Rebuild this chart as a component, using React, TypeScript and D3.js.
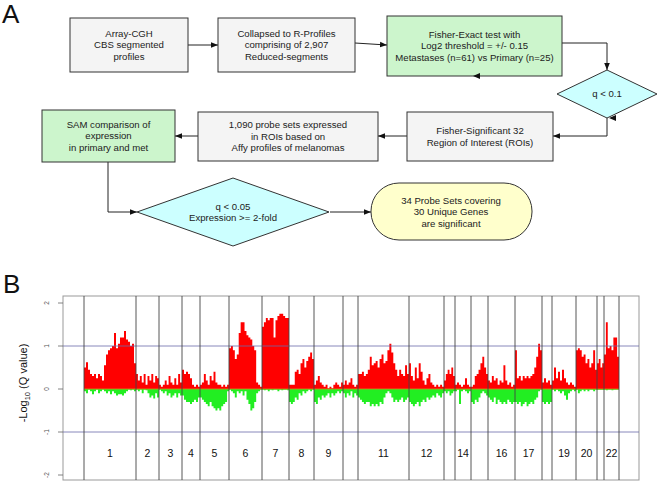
import React from "react";
import * as d3 from "d3";

// ---------- Data ----------
const chromNames = ["1","2","3","4","5","6","7","8","9","10","11","12","13","14","15","16","17","18","19","20","21","22"];
const shownLabels = ["1","2","3","4","5","6","7","8","9","11","12","14","16","17","19","20","22"];
const chromLengths = [52,23,23,18,29,33,27,25,29,15,51,35,11,16,17,27,27,10,24,21,7,15];

const gainValues: number[][] = [
  [0.5,0.62,0.45,0.35,0.3,0.35,0.25,0.35,0.3,0.2,0.55,0.8,0.9,0.95,1.0,1.3,0.95,1.05,1.2,1.2,1.35,1.15,1.1,1.0,1.05,0.6],
  [0.35,0.2,0.3,0.15,0.35,0.1,0.3,0.2,0.35,0.15,0.3,0.25],
  [0.1,0.05,0.1,0.2,0.1,0.3,0.15,0.1,0.25,0.1,0.35,0.15],
  [0.45,0.35,0.4,0.35,0.25,0.1,0.05,0.1,0.05],
  [0.1,0.15,0.35,0.2,0.1,0.3,0.2,0.4,0.15,0.1,0.1,0.05,0.1,0.05,0.1],
  [0.95,1.0,0.9,0.7,0.8,1.3,1.55,1.55,1.35,1.25,1.2,1.15,1.0,0.9,0.15,0.1,0.05],
  [1.45,1.55,1.65,1.6,1.65,1.65,1.2,1.6,1.7,1.75,1.75,1.7,1.65,1.65],
  [0.1,0.1,0.1,0.4,0.45,0.35,0.6,0.7,0.5,0.65,0.75,0.85,0.7],
  [0.1,0.2,0.3,0.15,0.1,0.05,0.1,0.02,0.05,0.02,0.1,0.15,0.1,0.05,0.15],
  [0.1,0.2,0.1,0.15,0.25,0.1,0.05,0.1],
  [0.35,0.35,0.4,0.3,0.35,0.45,0.75,0.55,0.6,0.65,0.5,0.7,0.8,0.6,0.65,0.9,1.05,0.85,0.6,0.45,0.3,0.45,0.35,0.3,0.55,0.35],
  [0.6,0.3,0.2,0.5,0.25,0.6,0.4,0.2,0.1,0.25,0.35,0.15,0.1,0.05,0.1,0.05,0.1,0.05],
  [0.2,0.35,0.45,0.35,0.5,0.3],
  [0.1,0.15,0.1,0.05,0.1,0.25,0.1,0.05],
  [0.05,0.1,0.3,0.35,0.45,0.6,0.75,0.5,0.35],
  [0.2,0.15,0.3,0.2,0.25,0.1,0.2,0.15,0.55,0.2,0.1,0.15,0.05,0.1],
  [0.9,0.25,0.3,0.2,0.3,0.25,0.3,0.25,0.3,0.35,0.5,0.75,1.05,0.9],
  [0.15,0.25,0.15,0.2,0.1],
  [0.2,0.5,0.25,0.4,0.2,0.45,0.25,0.15,0.1,0.15,0.1,0.05],
  [0.9,0.95,0.9,0.75,0.8,0.6,0.7,0.5,0.6,0.9,0.45],
  [0.6,0.7,0.5,0.6],
  [0.8,1.55,0.95,1.0,0.9,1.2,1.2,0.75],
];

const lossValues: number[][] = [
  [-0.05,-0.1,-0.02,-0.05,-0.12,-0.05,-0.02,-0.1,-0.05,-0.02,-0.05,-0.1,-0.05,-0.12,-0.05,-0.1,-0.15,-0.12,-0.12,-0.15,-0.1,-0.05,-0.02,-0.03,-0.02,-0.05],
  [-0.02,-0.05,-0.02,-0.1,-0.02,-0.03,-0.1,-0.2,-0.15,-0.22,-0.1,-0.2],
  [-0.02,-0.05,-0.1,-0.05,-0.15,-0.1,-0.2,-0.15,-0.1,-0.2,-0.1,-0.15],
  [-0.15,-0.25,-0.3,-0.3,-0.35,-0.3,-0.25,-0.3,-0.2],
  [-0.2,-0.25,-0.3,-0.35,-0.4,-0.3,-0.4,-0.45,-0.5,-0.45,-0.5,-0.4,-0.35,-0.3,-0.05],
  [-0.02,-0.05,-0.1,-0.2,-0.05,-0.1,-0.05,-0.15,-0.05,-0.25,-0.35,-0.5,-0.45,-0.3,-0.1,-0.05,-0.02],
  [-0.02,-0.03,-0.02,-0.05,-0.02,-0.03,-0.02,-0.02,-0.05,-0.02,-0.03,-0.02,-0.02,-0.03],
  [-0.3,-0.35,-0.3,-0.2,-0.25,-0.1,-0.15,-0.05,-0.1,-0.05,-0.02,-0.05,-0.02],
  [-0.3,-0.35,-0.2,-0.25,-0.15,-0.2,-0.15,-0.1,-0.2,-0.1,-0.15,-0.1,-0.05,-0.1,-0.05],
  [-0.1,-0.2,-0.1,-0.15,-0.05,-0.2,-0.1,-0.15],
  [-0.2,-0.25,-0.3,-0.35,-0.3,-0.3,-0.4,-0.35,-0.4,-0.35,-0.4,-0.3,-0.35,-0.2,-0.1,-0.05,-0.1,-0.2,-0.3,-0.25,-0.3,-0.25,-0.2,-0.3,-0.25,-0.2],
  [-0.3,-0.35,-0.4,-0.35,-0.3,-0.4,-0.3,-0.25,-0.3,-0.2,-0.25,-0.2,-0.15,-0.2,-0.1,-0.15,-0.2,-0.1],
  [-0.05,-0.1,-0.05,-0.15,-0.1,-0.05],
  [-0.05,-0.02,-0.35,-0.05,-0.02,-0.05,-0.1,-0.05],
  [-0.3,-0.35,-0.25,-0.3,-0.2,-0.1,-0.05,-0.1,-0.15],
  [-0.2,-0.25,-0.3,-0.2,-0.35,-0.25,-0.3,-0.35,-0.3,-0.35,-0.25,-0.3,-0.35,-0.3],
  [-0.3,-0.35,-0.3,-0.4,-0.35,-0.3,-0.4,-0.35,-0.3,-0.35,-0.25,-0.2,-0.05,-0.02],
  [-0.3,-0.35,-0.3,-0.35,-0.3],
  [-0.02,-0.05,-0.02,-0.05,-0.1,-0.05,-0.15,-0.25,-0.1,-0.05,-0.02,-0.05],
  [-0.02,-0.1,-0.05,-0.02,-0.05,-0.02,-0.05,-0.02,-0.02,-0.05,-0.02],
  [-0.02,-0.02,-0.02,-0.02],
  [-0.02,-0.03,-0.02,-0.02,-0.03,-0.02,-0.02,-0.02],
];

const yTicks = [-2, -1, 0, 1, 2];
const refLines = [1, -1];

// ---------- Layout ----------
const W = 661, H = 485;
const FONT = "'Liberation Sans', Arial, Helvetica, sans-serif";
const plot = { left: 63, right: 639, top: 296, bottom: 480, dataLeft: 84, dataRight: 619 };

const totalLen = d3.sum(chromLengths);
const x = d3.scaleLinear().domain([0, totalLen]).range([plot.dataLeft, plot.dataRight]);
const y = d3.scaleLinear().domain([-2, 2]).range([475, 303]);
const chromStarts = chromLengths.map((_, i) => d3.sum(chromLengths.slice(0, i)));

type Box = { x0: number; y0: number; x1: number; y1: number; fill: string; lines: string[] };
const boxes: Box[] = [
  { x0: 70, y0: 18, x1: 188, y1: 72, fill: "#f4f4f4", lines: ["Array-CGH", "CBS segmented", "profiles"] },
  { x0: 218, y0: 18, x1: 355, y1: 72, fill: "#f4f4f4", lines: ["Collapsed to R-Profiles", "comprising of 2,907", "Reduced-segments"] },
  { x0: 387, y0: 16, x1: 562, y1: 76, fill: "#ccf5cc", lines: ["Fisher-Exact test with", "Log2 threshold = +/- 0.15", "Metastases (n=61) vs Primary (n=25)"] },
  { x0: 407, y0: 112, x1: 553, y1: 161, fill: "#f4f4f4", lines: ["Fisher-Significant 32", "Region of Interest (ROIs)"] },
  { x0: 198, y0: 112, x1: 378, y1: 161, fill: "#f4f4f4", lines: ["1,090 probe sets expressed", "in ROIs based on", "Affy profiles of melanomas"] },
  { x0: 42, y0: 110, x1: 175, y1: 162, fill: "#ccf5cc", lines: ["SAM comparison of", "expression", "in primary and met"] },
];

function TextLines({ cx, cy, lines, size = 9.6 }: { cx: number; cy: number; lines: string[]; size?: number }) {
  const lh = 11.5;
  const start = cy - ((lines.length - 1) * lh) / 2;
  return (
    <text textAnchor="middle" fontFamily={FONT} fontSize={size} fill="#222">
      {lines.map((l, i) => (
        <tspan key={i} x={cx} y={start + i * lh} dy="0.35em">{l}</tspan>
      ))}
    </text>
  );
}

function Arrow({ pts }: { pts: [number, number][] }) {
  const line = d3.line();
  return <path d={line(pts) || ""} fill="none" stroke="#222" strokeWidth={1} markerEnd="url(#ah)" />;
}

function Diamond({ cx, cy, hw, hh, lines }: { cx: number; cy: number; hw: number; hh: number; lines: string[] }) {
  const pts = [[cx, cy - hh], [cx + hw, cy], [cx, cy + hh], [cx - hw, cy]].map((p) => p.join(",")).join(" ");
  return (
    <g>
      <polygon points={pts} fill="#ccffff" stroke="#333" strokeWidth={1} />
      <TextLines cx={cx} cy={cy} lines={lines} />
    </g>
  );
}

function stepPath(c: number, vals: number[]): string {
  const len = chromLengths[c];
  const n = vals.length;
  const step = len / n;
  const pts = vals.map((v, i) => ({ p: chromStarts[c] + i * step, v }));
  pts.push({ p: chromStarts[c] + len, v: vals[n - 1] });
  const area = d3
    .area<{ p: number; v: number }>()
    .x((d) => x(d.p))
    .y0(y(0))
    .y1((d) => y(d.v))
    .curve(d3.curveStepAfter);
  return area(pts) || "";
}

export default function App() {
  return (
    <svg width={W} height={H} style={{ position: "absolute", left: 0, top: 0, background: "#fff" }}>
      <defs>
        <marker id="ah" viewBox="0 0 10 10" refX="10" refY="5" markerWidth="7" markerHeight="7" orient="auto" markerUnits="userSpaceOnUse">
          <path d="M0,1 L10,5 L0,9 z" fill="#111" />
        </marker>
      </defs>
      <rect width={W} height={H} fill="#fff" />

      {/* Panel A */}
      <text x={2} y={23} fontFamily={FONT} fontSize={26} fill="#111">A</text>

      <Arrow pts={[[188, 45], [218, 45]]} />
      <Arrow pts={[[355, 43], [387, 45]]} />
      <Arrow pts={[[562, 43], [607, 43], [607, 70]]} />
      <Arrow pts={[[607, 118], [607, 136], [553, 136]]} />
      <Arrow pts={[[407, 136], [378, 136]]} />
      <Arrow pts={[[198, 136], [175, 136]]} />
      <Arrow pts={[[108, 162], [108, 212], [137, 212]]} />
      <Arrow pts={[[330, 212], [371, 212]]} />

      {boxes.map((b, i) => (
        <g key={i}>
          <rect x={b.x0} y={b.y0} width={b.x1 - b.x0} height={b.y1 - b.y0} fill={b.fill} stroke="#333" strokeWidth={1} />
          <TextLines cx={(b.x0 + b.x1) / 2} cy={(b.y0 + b.y1) / 2} lines={b.lines} />
        </g>
      ))}

      <Diamond cx={607} cy={94} hw={50} hh={24} lines={["q < 0.1"]} />
      <Diamond cx={233} cy={212} hw={96} hh={34} lines={["q < 0.05", "Expression >= 2-fold"]} />

      <rect x={371} y={183} width={161} height={57} rx={28} ry={28} fill="#ffffcc" stroke="#333" strokeWidth={1} />
      <TextLines cx={451} cy={212} lines={["34 Probe Sets covering", "30 Unique Genes", "are significant"]} />

      {/* stray arrowheads */}
      <path d="M473,76 L480,73 L480,79 z" fill="#111" />
      <path d="M609,118 L616,115 L616,121 z" fill="#111" />

      {/* Panel B */}
      <text x={3} y={293} fontFamily={FONT} fontSize={26} fill="#111">B</text>

      <rect x={plot.left} y={plot.top} width={plot.right - plot.left} height={plot.bottom - plot.top} fill="#fff" stroke="#999" strokeWidth={1} />

      {chromLengths.map((_, c) => (
        <g key={`chr${c}`}>
          <path d={stepPath(c, gainValues[c])} fill="#ff0000" />
          <path d={stepPath(c, lossValues[c])} fill="#22ee22" />
        </g>
      ))}

      <line x1={plot.dataLeft} x2={plot.dataRight} y1={y(0)} y2={y(0)} stroke="#d08a20" strokeWidth={0.8} />

      {refLines.map((v) => (
        <line key={v} x1={plot.left} x2={plot.right} y1={y(v)} y2={y(v)} stroke="#6a6aaa" strokeWidth={0.8} />
      ))}

      {chromStarts.concat([totalLen]).map((s, i) => (
        <line key={`v${i}`} x1={x(s)} x2={x(s)} y1={plot.top} y2={plot.bottom} stroke="#444" strokeWidth={0.9} />
      ))}

      {chromNames.map((nm, i) =>
        shownLabels.includes(nm) ? (
          <text key={`c${nm}`} x={x(chromStarts[i] + chromLengths[i] / 2)} y={453} dy="0.35em" textAnchor="middle" fontFamily={FONT} fontSize={10.5} fill="#111">
            {nm}
          </text>
        ) : null
      )}

      {yTicks.map((t) => (
        <g key={`t${t}`}>
          <line x1={58} x2={plot.left} y1={y(t)} y2={y(t)} stroke="#666" strokeWidth={0.8} />
          <text transform={`translate(49,${y(t)}) rotate(-90)`} textAnchor="middle" fontFamily={FONT} fontSize={6.5} fill="#555">
            {t}
          </text>
        </g>
      ))}

      <text transform="translate(27,383) rotate(-90)" textAnchor="middle" fontFamily={FONT} fontSize={11} fill="#111">
        -Log<tspan fontSize={7.5} dy={3}>10</tspan><tspan dy={-3}> (Q value)</tspan>
      </text>
    </svg>
  );
}
